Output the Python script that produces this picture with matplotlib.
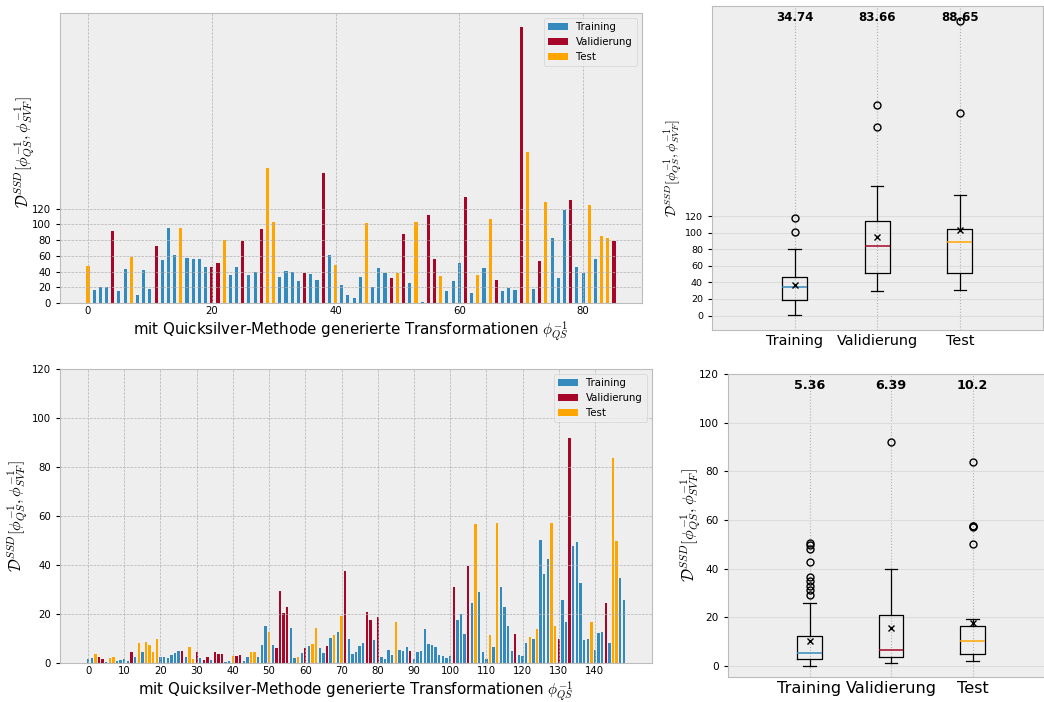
import matplotlib
matplotlib.use("Agg")
import matplotlib.pyplot as plt
import numpy as np

plt.style.use("bmh")

# top: 86 transformations
top_values = [46.8, 16.2, 20, 20, 91.5, 14.9, 43, 58.3, 9.8, 41.7,
              17.4, 72.3, 54.5, 95.3, 60.9, 95.3, 57, 55.7, 55.7, 45.5,
              45.5, 50.6, 80, 35.3, 45.5, 78.7, 35.3, 39.1, 94, 171.9,
              103, 32.8, 40.4, 39.1, 27.7, 37.9, 36.6, 28.9, 165.5, 60.9,
              48.1, 22.6, 9.8, 6, 32.8, 101.7, 20, 44.3, 37.9, 31.5,
              37.9, 87.7, 25.1, 103, 0.9, 111.9, 55.7, 34, 14.9, 27.7,
              50.6, 134.9, 12.3, 35.3, 44.3, 106.8, 28.9, 14.9, 18.7, 16.2,
              351.7, 192.4, 17.4, 53.2, 128.5, 82.6, 31.5, 118.3, 131, 45.5,
              37.9, 124.7, 55.7, 85.1, 82.6, 78.7]
top_groups = ("etttvttett" "tvtttetttt" "vvettvttve" "ettttvttvt" "ettttetttv"
              "evtetvvett" "tvtetevttt" "vetvetttvt" "teteev")

# bottom: 149 transformations
bottom_values = [1.6, 2.2, 3.8, 2.6, 1.8, 0.5, 2.2, 2.6, 1, 1.4,
                 1.5, 1, 4.6, 2.6, 8.3, 4.6, 8.7, 7.5, 4.6, 9.9,
                 2.6, 2.6, 2.2, 3.4, 4.2, 5, 5, 2.6, 6.7, 1.8,
                 4.6, 2.2, 1.4, 2.6, 1.4, 4.6, 3.8, 3.8, 0.5, 1,
                 3, 3, 3.4, 1, 2.6, 4.6, 4.6, 2.6, 7.5, 15.2,
                 12.8, 7.5, 6.3, 29.5, 20.5, 23, 14.4, 2.2, 2.6, 4.2,
                 6.3, 7.1, 7.9, 14.4, 6.3, 4.2, 7.1, 10.3, 11.6, 12.8,
                 19.3, 37.7, 9.9, 3.8, 4.6, 7.1, 8.3, 20.8, 17.6, 9.5,
                 18.9, 2.6, 1.8, 5.4, 3.4, 16.9, 5.4, 5, 6.7, 5,
                 1.5, 4.6, 5, 14, 7.9, 7.5, 6.7, 3.4, 3, 2.2,
                 3, 31.2, 17.7, 20.1, 12, 39.7, 24.6, 56.9, 29.1, 4.6,
                 1.8, 11.6, 6.7, 57.3, 31.2, 23, 15.2, 5, 12, 3.4,
                 3, 8.3, 10.7, 9.9, 14, 50.3, 36.5, 42.6, 57.3, 15.2,
                 9.9, 25.9, 16.9, 92, 47.9, 49.5, 32.8, 9.5, 9.9, 16.9,
                 5.4, 12.4, 12.8, 24.6, 8.3, 83.8, 49.9, 34.8, 25.9]
bottom_groups = ("ttevvteett" "ttvteteeee" "ttttttvtee" "vtvvtvvvtt" "evvtteettt"
                 "etvvvvttet" "vteettvtet" "evtttttvvt" "vttttetttv" "tttttttttt"
                 "tvtttvtett" "tetettttvt" "ttetetttee" "vttvttttte" "tttvteett")

group_keys = ["t", "v", "e"]
group_names = ["Training", "Validierung", "Test"]
group_colors = ["#348ABD", "#A60628", "#FFA500"]

# box statistics (top / bottom)
top_box = {
    "med": [34.74, 83.66, 88.65],
    "q1": [19, 51, 52],
    "q3": [46.5, 114, 104.7],
    "whislo": [0.3, 29.6, 31],
    "whishi": [80, 156.4, 146],
    "mean": [37.2, 95.4, 103.9],
    "fliers": [[100.6, 118.4], [227.5, 255], [244.5, 356.4]],
}
bottom_box = {
    "med": [5.36, 6.39, 10.2],
    "q1": [2.7, 3.8, 4.8],
    "q3": [12.4, 21.1, 16.3],
    "whislo": [0, 1.2, 1.8],
    "whishi": [26, 39.7, 19.3],
    "mean": [10.1, 15.5, 17.6],
    "fliers": [[29.1, 31.2, 32.8, 34.8, 36.5, 42.6, 47.9, 49.5, 50.3],
               [92],
               [49.9, 56.9, 57.3, 57.3, 84]],
}
median_labels_top = ["34.74", "83.66", "88.65"]
median_labels_bottom = ["5.36", "6.39", "10.2"]

ylab = r"$\mathcal{D}^{SSD}[\phi_{QS}^{-1}, \phi_{SVF}^{-1}]$"
xlab = r"mit Quicksilver-Methode generierte Transformationen $\phi_{QS}^{-1}$"

W, H = 1044, 702
fig = plt.figure(figsize=(W / 100, H / 100), dpi=100)


def px_axes(l, t, r, b):
    return fig.add_axes([l / W, 1 - b / H, (r - l) / W, (b - t) / H])


def bar_panel(ax, values, groups, width, fs):
    values = np.array(values)
    groups = np.array(list(groups))
    idx = np.arange(len(values))
    for key, name, col in zip(group_keys, group_names, group_colors):
        m = groups == key
        ax.bar(idx[m], values[m], width=width, color=col, label=name)
    ax.set_xlabel(xlab, fontsize=10.8, labelpad=2)
    ax.set_ylabel(ylab, fontsize=11.6)
    ax.tick_params(axis="y", labelsize=fs, direction="out", length=3)
    ax.tick_params(axis="x", labelsize=fs, length=0, pad=2.5)
    ax.legend(loc="upper right", fontsize=fs)


def box_panel(ax, st, labels, fs, tfs, lfs, yfs, ylx):
    stats = []
    for i in range(3):
        stats.append(dict(med=st["med"][i], q1=st["q1"][i], q3=st["q3"][i],
                          whislo=st["whislo"][i], whishi=st["whishi"][i],
                          mean=st["mean"][i], fliers=st["fliers"][i],
                          label=group_names[i]))
    bp = ax.bxp(stats, showmeans=True,
                boxprops=dict(color="black", linewidth=0.9),
                whiskerprops=dict(color="black", linewidth=0.9),
                capprops=dict(color="black", linewidth=0.9),
                flierprops=dict(marker="o", markerfacecolor="none",
                                markeredgecolor="black", markersize=5),
                meanprops=dict(marker="x", markeredgecolor="black",
                               markersize=5))
    for line, col in zip(bp["medians"], group_colors):
        line.set_color(col)
        line.set_linewidth(1.1)
    for i, txt in enumerate(labels):
        ax.text(i + 1, 0.963, txt, transform=ax.get_xaxis_transform(),
                ha="center", va="center", fontweight="bold", fontsize=lfs)
    ax.set_xlim(0, 4)
    ax.xaxis.grid(True, linestyle=":", color="#b2b2b2", linewidth=0.8)
    ax.yaxis.grid(True, linestyle="-", color="#dcdcdc", linewidth=0.8)
    ax.tick_params(axis="y", labelsize=fs, direction="out", length=3)
    ax.tick_params(axis="x", labelsize=tfs, length=0, pad=3)
    ax.set_ylabel(ylab, fontsize=yfs)
    ax.yaxis.set_label_coords(ylx, 0.5)


ax1 = px_axes(60, 13, 642, 303)
bar_panel(ax1, top_values, top_groups, 0.5, 7.3)
ax1.set_yticks(range(0, 121, 20))
ax1.yaxis.set_label_coords(-0.04, 0.52)

ax2 = px_axes(712, 6, 1042.5, 330)
box_panel(ax2, top_box, median_labels_top, 6.8, 10.4, 8.5, 10.1, -0.078)
ax2.set_yticks(range(0, 121, 20))

ax3 = px_axes(60, 369, 652, 663)
bar_panel(ax3, bottom_values, bottom_groups, 0.65, 7.3)
ax3.set_ylim(0, 120)
ax3.set_xticks(range(0, 141, 10))
ax3.yaxis.set_label_coords(-0.05, 0.5)

ax4 = px_axes(728, 374, 1054, 677)
box_panel(ax4, bottom_box, median_labels_bottom, 7.6, 11.6, 9.2, 11.8, -0.078)
ax4.set_ylim(-4.6, 120)

fig.savefig("out.png", dpi=100)
